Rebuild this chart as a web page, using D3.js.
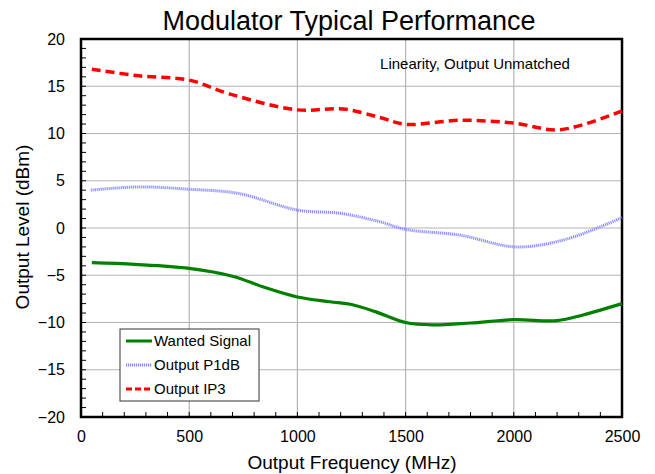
<!DOCTYPE html>
<html><head><meta charset="utf-8">
<script src="https://cdn.jsdelivr.net/npm/d3@7"></script>
<style>body{margin:0;background:#fff}svg{display:block;font-family:Arial,"Liberation Sans",sans-serif}</style>
</head><body><svg id="c" width="655" height="474"></svg>
<script>
const wantedF = [50,250,500,700,850,1000,1150,1250,1360,1500,1625,1800,2000,2200,2320,2500];
const wantedV = [-3.67,-3.85,-4.27,-5.1,-6.3,-7.3,-7.8,-8.1,-8.85,-10.0,-10.25,-10.05,-9.7,-9.8,-9.2,-8.0];
const p1dbF = [45,268,500,730,1000,1200,1380,1500,1750,2010,2240,2500];
const p1dbV = [4.0,4.35,4.1,3.65,1.9,1.55,0.67,-0.15,-0.75,-2.0,-1.2,1.1];
const ip3F = [50,268,500,685,1000,1210,1380,1500,1750,2000,2215,2500];
const ip3V = [16.8,16.1,15.65,14.2,12.5,12.6,11.7,10.97,11.4,11.1,10.4,12.4];
const xTicks = [0,500,1000,1500,2000,2500];
const yTicks = [-20,-15,-10,-5,0,5,10,15,20];
const seriesNames = ["Wanted Signal","Output P1dB","Output IP3"];

const svg = d3.select("#c");
const L=81, R=622, T=39, B=417;
const x = d3.scaleLinear().domain([0,2500]).range([L,R]);
const y = d3.scaleLinear().domain([-20,20]).range([B,T]);

// grid
svg.append("g").selectAll("line").data(xTicks.slice(1,-1)).join("line")
  .attr("x1",d=>x(d)).attr("x2",d=>x(d)).attr("y1",T).attr("y2",B)
  .attr("stroke","#b4b4b4").attr("stroke-width",1.2);
svg.append("g").selectAll("line").data(yTicks.slice(1,-1)).join("line")
  .attr("y1",d=>y(d)).attr("y2",d=>y(d)).attr("x1",L).attr("x2",R)
  .attr("stroke","#b4b4b4").attr("stroke-width",1.2);

// minor ticks
svg.append("g").selectAll("line").data(d3.range(-20,21,1)).join("line")
  .attr("x1",L).attr("x2",L+5).attr("y1",d=>y(d)).attr("y2",d=>y(d))
  .attr("stroke","#000").attr("stroke-width",1);
svg.append("g").selectAll("line").data(d3.range(0,2501,100)).join("line")
  .attr("x1",d=>x(d)).attr("x2",d=>x(d)).attr("y1",B).attr("y2",B-5)
  .attr("stroke","#000").attr("stroke-width",1);

// axes tick labels
const xa = svg.append("g").attr("transform",`translate(0,${B})`)
  .call(d3.axisBottom(x).tickValues(xTicks).tickSize(0).tickPadding(14).tickFormat(d3.format("d")));
xa.select(".domain").remove();
xa.selectAll("text").attr("font-size",16).attr("fill","#000").attr("font-family","Arial,'Liberation Sans',sans-serif");
const ya = svg.append("g").attr("transform",`translate(${L},0)`)
  .call(d3.axisLeft(y).tickValues(yTicks).tickSize(0).tickPadding(16).tickFormat(d3.format("d")));
ya.select(".domain").remove();
ya.selectAll("text").attr("font-size",16).attr("fill","#000").attr("font-family","Arial,'Liberation Sans',sans-serif");

// frame
svg.append("rect").attr("x",L).attr("y",T).attr("width",R-L).attr("height",B-T)
  .attr("fill","none").attr("stroke","#000").attr("stroke-width",2.5);

// lines
const line = d3.line().x(d=>x(d[0])).y(d=>y(d[1])).curve(d3.curveCatmullRom.alpha(0.5));
const zip=(a,b)=>a.map((v,i)=>[v,b[i]]);
svg.append("path").datum(zip(p1dbF,p1dbV)).attr("d",line).attr("fill","none")
  .attr("stroke","#8c8cff").attr("stroke-width",3).attr("stroke-dasharray","1.2,0.8");
svg.append("path").datum(zip(ip3F,ip3V)).attr("d",line).attr("fill","none")
  .attr("stroke","#ff0000").attr("stroke-width",3.5).attr("stroke-dasharray","9,5");
svg.append("path").datum(zip(wantedF,wantedV)).attr("d",line).attr("fill","none")
  .attr("stroke","#008000").attr("stroke-width",3.2);

// title & labels
svg.append("text").attr("x",349).attr("y",30).attr("text-anchor","middle")
  .attr("font-size",27).text("Modulator Typical Performance");
svg.append("text").attr("x",352).attr("y",469).attr("text-anchor","middle")
  .attr("font-size",19).text("Output Frequency (MHz)");
svg.append("text").attr("transform","translate(29,227) rotate(-90)").attr("text-anchor","middle")
  .attr("font-size",19).text("Output Level (dBm)");
svg.append("text").attr("x",475).attr("y",69).attr("text-anchor","middle")
  .attr("font-size",15).text("Linearity, Output Unmatched");

// legend
const lg = svg.append("g");
lg.append("rect").attr("x",120).attr("y",329).attr("width",139).attr("height",72)
  .attr("fill","#fff").attr("stroke","#333").attr("stroke-width",1);
const styles=[{c:"#008000",w:3,da:null},{c:"#8c8cff",w:3,da:"1.2,0.8"},{c:"#ff0000",w:3,da:"6,3"}];
seriesNames.forEach((n,i)=>{
  const yy = 341 + i*24;
  lg.append("line").attr("x1",126).attr("x2",152).attr("y1",yy).attr("y2",yy)
    .attr("stroke",styles[i].c).attr("stroke-width",styles[i].w).attr("stroke-dasharray",styles[i].da);
  lg.append("text").attr("x",154).attr("y",yy+5).attr("font-size",15).text(n);
});
</script></body></html>
